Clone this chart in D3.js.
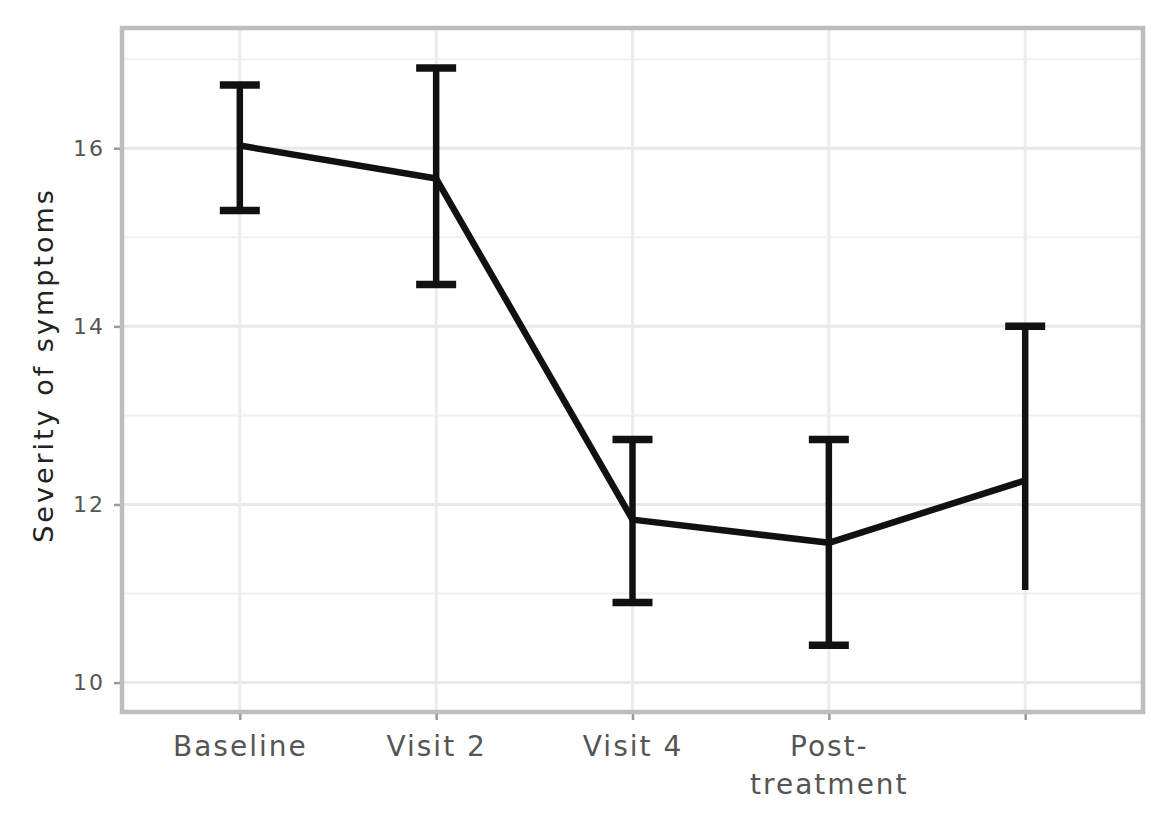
<!DOCTYPE html>
<html>
<head>
<meta charset="utf-8">
<script src="https://cdn.jsdelivr.net/npm/d3@7"></script>
<style>
  body{margin:0;background:#fff;}
  text{font-family:"DejaVu Sans",sans-serif;}
</style>
</head>
<body>
<div id="chart"></div>
<script>
// data
const categories=["Baseline","Visit 2","Visit 4","Post-\ntreatment",""];
const means=[16.03,15.66,11.83,11.57,12.27];
const upper=[16.71,16.90,12.73,12.73,14.00];
const lower=[15.30,14.47,10.90,10.42,11.04];
const lowerCap=[true,true,true,true,false];
const yTicks=[10,12,14,16];
const yMinor=[11,13,15,17];

const Wd=1151,Ht=828;
const panel={left:122,right:1143,top:28,bottom:712};

const svg=d3.select('#chart').append('svg')
  .attr('width',Wd).attr('height',Ht);

const x=d3.scalePoint().domain(categories).range([panel.left,panel.right]).padding(0.6);
const y=d3.scaleLinear().domain([9.67,17.35]).range([panel.bottom,panel.top]);

// grid
const grid=svg.append('g');
grid.selectAll('line.minor').data(yMinor).enter().append('line')
  .attr('x1',panel.left).attr('x2',panel.right)
  .attr('y1',d=>y(d)).attr('y2',d=>y(d))
  .attr('stroke','#f0f0f0').attr('stroke-width',2);
grid.selectAll('line.major').data(yTicks).enter().append('line')
  .attr('x1',panel.left).attr('x2',panel.right)
  .attr('y1',d=>y(d)).attr('y2',d=>y(d))
  .attr('stroke','#e8e8e8').attr('stroke-width',3);
grid.selectAll('line.vx').data(categories).enter().append('line')
  .attr('x1',d=>x(d)).attr('x2',d=>x(d))
  .attr('y1',panel.top).attr('y2',panel.bottom)
  .attr('stroke','#ececec').attr('stroke-width',3);

// axes
const yAxis=svg.append('g').attr('transform',`translate(${panel.left},0)`)
  .call(d3.axisLeft(y).tickValues(yTicks).tickSize(8).tickPadding(9).tickFormat(d3.format('d')));
const xAxis=svg.append('g').attr('transform',`translate(0,${panel.bottom})`)
  .call(d3.axisBottom(x).tickSize(8).tickPadding(10).tickFormat(''));
[yAxis,xAxis].forEach(a=>{
  a.select('.domain').remove();
  a.selectAll('.tick line').attr('stroke','#999').attr('stroke-width',2.5);
});
yAxis.selectAll('.tick text')
  .attr('fill','#555').style('font-size','22px').style('letter-spacing','2px');

// multi-line x labels
xAxis.selectAll('.tick').each(function(d){
  const t=d3.select(this).append('text')
    .attr('fill','#555').attr('text-anchor','middle')
    .style('font-size','28px').style('letter-spacing','2px');
  d.split('\n').forEach((s,i)=>{
    t.append('tspan').attr('x',0).attr('y',44+i*38).text(s);
  });
});

// panel border
svg.append('rect')
  .attr('x',panel.left).attr('y',panel.top)
  .attr('width',panel.right-panel.left).attr('height',panel.bottom-panel.top)
  .attr('fill','none').attr('stroke','#bdbdbd').attr('stroke-width',4.5);

// y title
svg.append('text')
  .attr('transform',`translate(53,${(183+547)/2}) rotate(-90)`)
  .attr('text-anchor','middle').attr('fill','#222')
  .style('font-size','27px').style('letter-spacing','3px')
  .text('Severity of symptoms');

// error bars
const rows=categories.map((c,i)=>({c,m:means[i],hi:upper[i],lo:lower[i],cap:lowerCap[i]}));
const eb=svg.append('g').attr('stroke','#111').attr('stroke-width',6.5);
eb.selectAll('line.v').data(rows).enter().append('line')
  .attr('x1',d=>x(d.c)).attr('x2',d=>x(d.c))
  .attr('y1',d=>y(d.hi)).attr('y2',d=>y(d.lo));
eb.selectAll('line.top').data(rows).enter().append('line')
  .attr('x1',d=>x(d.c)-20).attr('x2',d=>x(d.c)+20)
  .attr('y1',d=>y(d.hi)).attr('y2',d=>y(d.hi)).attr('stroke-width',7.5);
eb.selectAll('line.bot').data(rows.filter(d=>d.cap)).enter().append('line')
  .attr('x1',d=>x(d.c)-20).attr('x2',d=>x(d.c)+20)
  .attr('y1',d=>y(d.lo)).attr('y2',d=>y(d.lo)).attr('stroke-width',7.5);

// mean line
svg.append('path').datum(rows)
  .attr('fill','none').attr('stroke','#111').attr('stroke-width',6.5)
  .attr('stroke-linejoin','round')
  .attr('d',d3.line().x(d=>x(d.c)).y(d=>y(d.m)));
</script>
</body>
</html>
